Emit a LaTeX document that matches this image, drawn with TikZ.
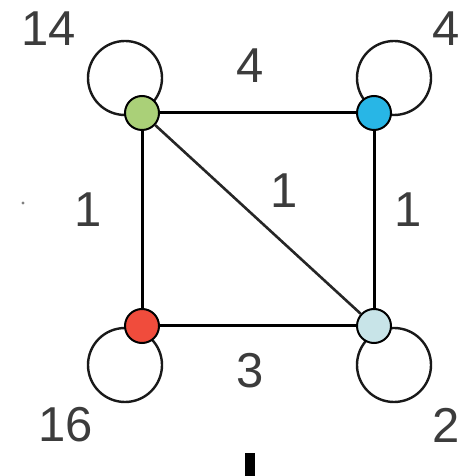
\documentclass[tikz,border=0pt]{standalone}
\usepackage{fontspec}
\setmainfont{Liberation Sans}
\definecolor{cgreen}{RGB}{170,208,120}
\definecolor{cblue}{RGB}{40,182,230}
\definecolor{cred}{RGB}{240,76,60}
\definecolor{clight}{RGB}{200,228,232}
\definecolor{txt}{RGB}{60,60,60}
\tikzset{
  vtx/.style={circle,draw=black,line width=2pt,minimum size=34pt,inner sep=0pt},
  edge/.style={line width=3pt,black},
  diag/.style={line width=2.6pt,black!85},
  loopc/.style={line width=2.4pt,black!90},
  lab/.style={text=txt,font=\fontsize{49}{49}\selectfont,inner sep=0pt}
}
\begin{document}
\begin{tikzpicture}[x=1pt,y=1pt]
\useasboundingbox (0,0) rectangle (463,476);
\coordinate (Gc) at (142,363);
\coordinate (Bc) at (374,363);
\coordinate (Rc) at (142,150);
\coordinate (Lc) at (374,150);
% loops
\draw[loopc] ([shift={(-17,35)}]Gc) circle[radius=37];
\draw[loopc] ([shift={(20,35)}]Bc) circle[radius=37];
\draw[loopc] ([shift={(-17,-39)}]Rc) circle[radius=37];
\draw[loopc] ([shift={(20,-39)}]Lc) circle[radius=37];
% nodes
\node[vtx,fill=cgreen] (G) at (Gc) {};
\node[vtx,fill=cblue] (B) at (Bc) {};
\node[vtx,fill=cred] (R) at (Rc) {};
\node[vtx,fill=clight] (L) at (Lc) {};
% edges
\draw[edge] (G) -- (B);
\draw[edge] (G) -- (R);
\draw[edge] (B) -- (L);
\draw[edge] (R) -- (L);
\draw[diag] (G) -- (L);
% labels
\node[lab] (l14) at (49,447) {14};
\node[lab] (l4a) at (250,410) {4};
\node[lab] (l4b) at (446,447) {4};
\node[lab] (l1a) at (88,266) {1};
\node[lab] (l1b) at (284,285) {1};
\node[lab] (l1c) at (408,266) {1};
\node[lab] (l3) at (250,105) {3};
\node[lab] (l16) at (66,51) {16};
\node[lab] (l2) at (446,51) {2};
% stray marks
\fill[black] (245,0) rectangle (255,23);
\fill[black!50] (23,273) circle[radius=1.6];
\end{tikzpicture}
\end{document}
